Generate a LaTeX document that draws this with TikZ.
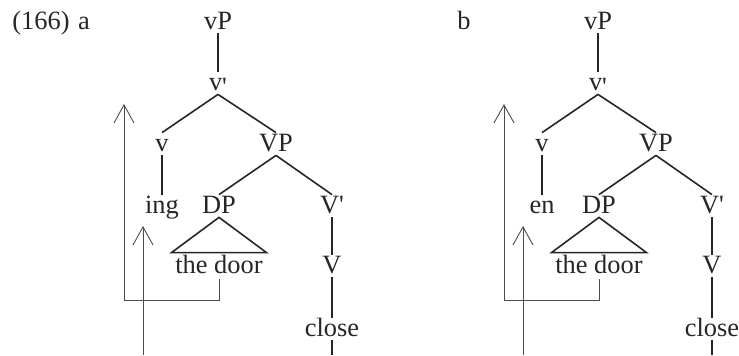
\documentclass[tikz,border=0pt]{standalone}
\usepackage{fontspec}
\setmainfont{Liberation Serif}
\usepackage{tikz}
\usetikzlibrary{
  arrows.meta,
  calc
}
\newcommand{\lowprime}{\raisebox{-0.22em}{\textquotesingle}}

\begin{document}
\begin{tikzpicture}[
  x=0.5pt, y=-0.5pt,
  font=\fontsize{13.2}{15}\selectfont,
  color=black!85,
  cat/.style={inner xsep=1.75pt, inner ysep=2pt, text height=0.7em, text depth=0pt, anchor=base},
  branch/.style={line width=0.8pt},
  move/.style={line width=0.45pt, black!70, -{Straight Barb[length=9pt, width=10pt]}}
]
  \useasboundingbox (0,0) rectangle (739,355);
  \node[anchor=base west, inner sep=0pt] (ex) at (12,29) {(166)};
  % two trees, side by side
  \foreach \lab/\aff/\dx in {a/ing/0, b/en/380} {
    \node[cat] (lab-\lab) at (84+\dx,29) {\lab};
    \node[cat] (vP-\lab) at (218+\dx,29) {vP};
    \node[cat] (v1-\lab) at (218+\dx,90) {v\lowprime};
    \node[cat] (v-\lab) at (162+\dx,151) {v};
    \node[cat] (VP-\lab) at (276+\dx,151) {VP};
    \node[cat] (aff-\lab) at (162+\dx,213) {\aff};
    \node[cat] (DP-\lab) at (219+\dx,213) {DP};
    \node[cat] (V1-\lab) at (332+\dx,213) {V\textquotesingle};
    \node[cat, inner ysep=3pt] (door-\lab) at (219+\dx,273) {the door};
    \node[cat] (V-\lab) at (332+\dx,273) {V};
    \node[cat] (close-\lab) at (332+\dx,336) {close};
    \coordinate (end-\lab) at (332+\dx,355);
    \draw[branch] (vP-\lab.south) -- (v1-\lab.north);
    \draw[branch] (v1-\lab.south) -- (v-\lab.north);
    \draw[branch] (v1-\lab.south) -- (VP-\lab.north);
    \draw[branch] (v-\lab.south) -- (aff-\lab.north);
    \draw[branch] (VP-\lab.south) -- (DP-\lab.north);
    \draw[branch] (VP-\lab.south) -- (V1-\lab.north);
    \draw[branch] (DP-\lab.south) -- (door-\lab.north east) -- (door-\lab.north west) -- cycle;
    \draw[branch] (V1-\lab.south) -- (V-\lab.north);
    \draw[branch] (V-\lab.south) -- (close-\lab.north);
    \draw[branch] (close-\lab.south) -- (end-\lab);
    % movement arrows
    \coordinate (turn-\lab) at (124+\dx,300);
    \coordinate (tipv-\lab) at (124+\dx,104);
    \draw[move] (door-\lab.south) |- (turn-\lab) -- (tipv-\lab);
    \coordinate (foot-\lab) at (143+\dx,355);
    \coordinate (tipa-\lab) at (143+\dx,226);
    \draw[move] (foot-\lab) -- (tipa-\lab);
  }
\end{tikzpicture}
\end{document}
